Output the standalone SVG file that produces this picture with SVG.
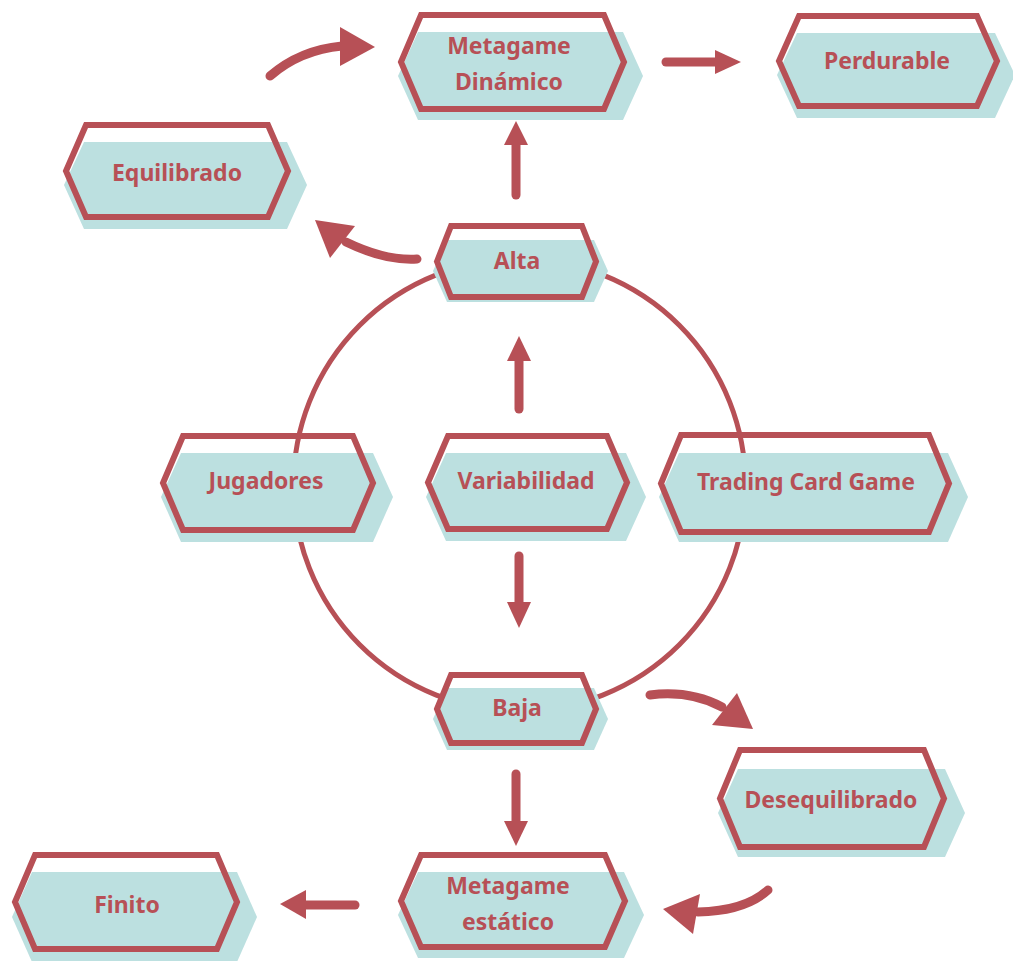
<svg xmlns="http://www.w3.org/2000/svg" width="1013" height="961" viewBox="0 0 1013 961">
<style>
.teal{fill:#BCE0E0;stroke:none}
.hex{fill:none;stroke:#B75056;stroke-width:6;stroke-linejoin:miter}
.lbl{font-family:"Noto Sans","Open Sans","DejaVu Sans",sans-serif;font-weight:bold;font-size:23px;fill:#B75056;text-anchor:middle}
.shaft{fill:none;stroke:#B75056;stroke-width:9;stroke-linecap:round}
.head{fill:#B75056;stroke:none}
.ring{fill:none;stroke:#B75056;stroke-width:5}
</style>
<rect width="1013" height="961" fill="#ffffff"/>
<circle class="ring" cx="519.5" cy="485" r="226"/>
<g id="connectors">
  <path class="shaft" d="M270,76 Q300,50 342,46"/>
  <polygon class="head" points="340,27 375,47 340,66"/>
  <path class="shaft" d="M666,62 L716,62"/>
  <polygon class="head" points="715,50 741,62 715,74"/>
  <path class="shaft" d="M516,195 L516,145"/>
  <polygon class="head" points="504,145 516,121 528,145"/>
  <path class="shaft" d="M417,259 Q385,261 346,242"/>
  <polygon class="head" points="315,220 355,226 330,258"/>
  <path class="shaft" d="M519,409 L519,360"/>
  <polygon class="head" points="507,361 519,336 531,361"/>
  <path class="shaft" d="M519,556 L519,603"/>
  <polygon class="head" points="507,602 519,628 531,602"/>
  <path class="shaft" d="M650,695 Q690,690 722,707"/>
  <polygon class="head" points="737,693 753,729 712,725"/>
  <path class="shaft" d="M516,774 L516,822"/>
  <polygon class="head" points="504,821 516,846 528,821"/>
  <path class="shaft" d="M768,890 Q745,911 698,912"/>
  <polygon class="head" points="700,894 663,909 693,934"/>
  <path class="shaft" d="M355,905 L306,905"/>
  <polygon class="head" points="306,890 280,904 306,919"/>
</g>
<g id="node-metagame-dinamico">
  <polygon class="teal" points="398,76 418,32 623,32 643,76 623,120 418,120"/>
  <polygon class="hex" points="401,62 421,15 604,15 624,62 604,109 421,109"/>
  <text class="lbl" x="509" y="54">Metagame</text>
  <text class="lbl" x="509" y="90">Dinámico</text>
</g>
<g id="node-perdurable">
  <polygon class="teal" points="777,75 797,33 995,33 1015,75 995,118 797,118"/>
  <polygon class="hex" points="779,61 799,16 977,16 997,61 977,106 799,106"/>
  <text class="lbl" x="887" y="69">Perdurable</text>
</g>
<g id="node-equilibrado">
  <polygon class="teal" points="64,185 84,142 287,142 307,185 287,229 84,229"/>
  <polygon class="hex" points="66,171 86,125 268,125 288,171 268,217 86,217"/>
  <text class="lbl" x="177" y="181">Equilibrado</text>
</g>
<g id="node-alta">
  <polygon class="teal" points="433,271 447,240 594,240 608,271 594,302 447,302"/>
  <polygon class="hex" points="437,261.5 451,226 582,226 596,261.5 582,297 451,297"/>
  <text class="lbl" x="517" y="269">Alta</text>
</g>
<g id="node-jugadores">
  <polygon class="teal" points="161,497 181,453 373,453 393,497 373,542 181,542"/>
  <polygon class="hex" points="163,483 183,436 353,436 373,483 353,530 183,530"/>
  <text class="lbl" x="266" y="489">Jugadores</text>
</g>
<g id="node-variabilidad">
  <polygon class="teal" points="426,497 446,453 626,453 646,497 626,541 446,541"/>
  <polygon class="hex" points="428,482.5 448,436 607,436 627,482.5 607,529 448,529"/>
  <text class="lbl" x="526" y="489">Variabilidad</text>
</g>
<g id="node-trading-card-game">
  <polygon class="teal" points="659,497 679,453 948,453 968,497 948,542 679,542"/>
  <polygon class="hex" points="661,483.5 681,435 929,435 949,483.5 929,532 681,532"/>
  <text class="lbl" x="806" y="490">Trading Card Game</text>
</g>
<g id="node-baja">
  <polygon class="teal" points="433,719 447,688 594,688 608,719 594,750 447,750"/>
  <polygon class="hex" points="437,709 451,675 582,675 596,709 582,743 451,743"/>
  <text class="lbl" x="517" y="716">Baja</text>
</g>
<g id="node-desequilibrado">
  <polygon class="teal" points="718,813 738,769 945,769 965,813 945,857 738,857"/>
  <polygon class="hex" points="720,798.5 740,750 924,750 944,798.5 924,847 740,847"/>
  <text class="lbl" x="831" y="808">Desequilibrado</text>
</g>
<g id="node-metagame-estatico">
  <polygon class="teal" points="398,915 418,872 624,872 644,915 624,958 418,958"/>
  <polygon class="hex" points="401,901 421,855 605,855 625,901 605,947 421,947"/>
  <text class="lbl" x="508" y="894">Metagame</text>
  <text class="lbl" x="508" y="930">estático</text>
</g>
<g id="node-finito">
  <polygon class="teal" points="12,917 32,872 237,872 257,917 237,962 32,962"/>
  <polygon class="hex" points="15,902 35,855 217,855 237,902 217,949 35,949"/>
  <text class="lbl" x="127" y="913">Finito</text>
</g>
</svg>
